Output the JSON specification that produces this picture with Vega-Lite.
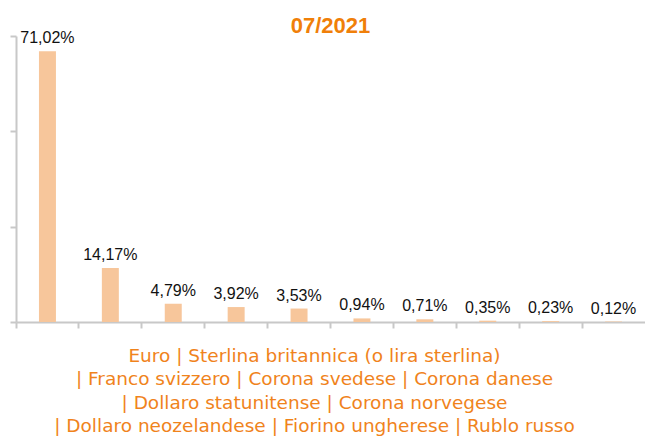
{
  "$schema": "https://vega.github.io/schema/vega-lite/v6.json",
  "width": 629,
  "height": 286,
  "autosize": {"type": "none"},
  "padding": {"left": 16, "top": 36, "right": 0, "bottom": 114},
  "background": "white",
  "title": {
    "text": "07/2021",
    "font": "Liberation Sans",
    "fontSize": 22,
    "fontWeight": "bold",
    "color": "#f07f09",
    "anchor": "middle",
    "offset": -8
  },
  "data": {
    "values": [
      {"valuta": "Euro", "quota": 71.02, "etichetta": "71,02%"},
      {"valuta": "Sterlina britannica (o lira sterlina)", "quota": 14.17, "etichetta": "14,17%"},
      {"valuta": "Franco svizzero", "quota": 4.79, "etichetta": "4,79%"},
      {"valuta": "Corona svedese", "quota": 3.92, "etichetta": "3,92%"},
      {"valuta": "Corona danese", "quota": 3.53, "etichetta": "3,53%"},
      {"valuta": "Dollaro statunitense", "quota": 0.94, "etichetta": "0,94%"},
      {"valuta": "Corona norvegese", "quota": 0.71, "etichetta": "0,71%"},
      {"valuta": "Dollaro neozelandese", "quota": 0.35, "etichetta": "0,35%"},
      {"valuta": "Fiorino ungherese", "quota": 0.23, "etichetta": "0,23%"},
      {"valuta": "Rublo russo", "quota": 0.12, "etichetta": "0,12%"}
    ]
  },
  "encoding": {
    "x": {
      "field": "valuta",
      "type": "nominal",
      "sort": null,
      "scale": {"paddingInner": 0, "paddingOuter": 0},
      "axis": {
        "labels": false,
        "bandPosition": 0,
        "tickSize": 6,
        "tickColor": "#c8c8c8",
        "tickWidth": 2,
        "domainColor": "#c8c8c8",
        "domainWidth": 2,
        "title": [
          "Euro | Sterlina britannica (o lira sterlina)",
          "| Franco svizzero | Corona svedese | Corona danese",
          "| Dollaro statunitense | Corona norvegese",
          "| Dollaro neozelandese | Fiorino ungherese | Rublo russo"
        ],
        "titleFont": "DejaVu Sans",
        "titleFontSize": 18.5,
        "titleFontWeight": "normal",
        "titleColor": "#f0831c",
        "titleLineHeight": 23.5,
        "titlePadding": 17,
        "titleX": 298,
        "titleAnchor": null,
        "titleAlign": "center"
      }
    },
    "y": {
      "field": "quota",
      "type": "quantitative",
      "scale": {"domain": [0, 75], "nice": false},
      "axis": {
        "title": null,
        "labels": false,
        "grid": false,
        "values": [0, 25, 50, 75],
        "tickSize": 6,
        "tickColor": "#c8c8c8",
        "tickWidth": 2,
        "domainColor": "#c8c8c8",
        "domainWidth": 2
      }
    }
  },
  "layer": [
    {"mark": {"type": "bar", "color": "#f7c69b", "width": {"band": 0.27}}},
    {
      "mark": {"type": "text", "baseline": "bottom", "dy": -5, "font": "Liberation Sans", "fontSize": 16, "color": "#111111"},
      "encoding": {"text": {"field": "etichetta"}}
    }
  ],
  "config": {"view": {"stroke": null}}
}
